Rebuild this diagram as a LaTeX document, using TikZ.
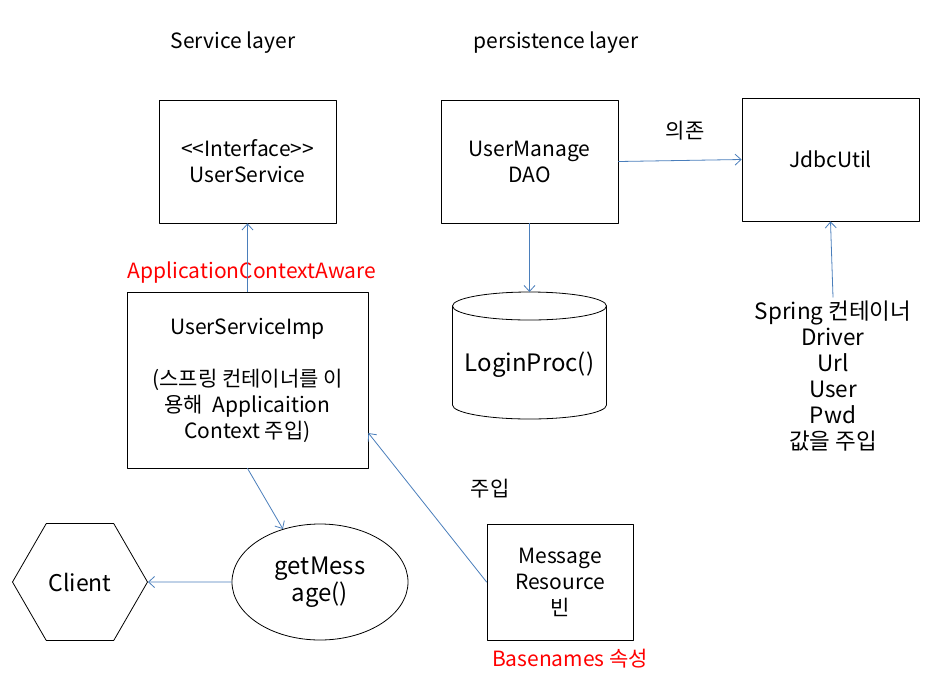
\documentclass[tikz,border=0pt]{standalone}
\usepackage{fontspec}
\setmainfont{Noto Sans CJK KR}
\usetikzlibrary{calc,shapes.geometric,arrows.meta}
\definecolor{linkblue}{RGB}{74,126,187}
\def\fs{21}
\def\lh{26}

\begin{document}
\begin{tikzpicture}[x=1pt, y=-1pt, line cap = round, line join = round,
		every node/.style = {font=\fontsize{\fs}{\lh}\selectfont, align=center},
		big/.style = {font=\fontsize{24}{27}\selectfont},
		box/.style = {draw, line width=0.8pt, inner sep=0pt},
		link/.style = {draw=linkblue, line width=0.8pt, -{Straight Barb[length=6pt,width=11pt]}},
		note/.style = {text=red}]
		\useasboundingbox (0,0) rectangle (937,673);
		
		% Layers
		\node (svclayer) at (233,43) {Service layer};
		\node (perlayer) at (556,43) {persistence layer};
		
		% Boxes
		\node[box, minimum width=177, minimum height=123] (svc) at (247.5,161.5) {<{}<Interface>{}>\\UserService};
		\node[box, minimum width=241, minimum height=176] (impl) at (247.5,380)
			{UserServiceImp\\[\lh pt](스프링 컨테이너를 이\\용해~~Applicaition\\Context 주입)};
		\node[box, minimum width=177, minimum height=123] (dao) at (529.5,161.5) {UserManage\\DAO};
		\node[box, minimum width=177, minimum height=123] (jdbc) at (830.5,159.5) {JdbcUtil};
		\node[box, minimum width=146, minimum height=116] (msg) at (560,582) {Message\\Resource\\빈};
		\node[box, big, ellipse, minimum width=176, minimum height=116] (getmsg) at (320,582) {getMess\\age()};
		\node[box, big, font=\fontsize{23}{27}\selectfont, regular polygon, regular polygon sides=6, minimum size=135] (client) at (80,582) {Client};
		
		% Cylinder
		\coordinate (dbtop) at (529.5,292);
		\draw[line width=0.8pt] (529.5,306) ellipse [x radius=77, y radius=14];
		\draw[line width=0.8pt] (452.5,306) -- (452.5,405)
			arc [start angle=180, end angle=0, x radius=77, y radius=14] -- (606.5,306);
		\node[big] (login) at (529.5,365) {LoginProc()};
		
		% Spring
		\node[font=\fontsize{22.5}{26}\selectfont] (spring) at (833,376) {Spring 컨테이너\\Driver\\Url\\User\\Pwd\\값을 주입};
		
		% Labels
		\node[note] (aware) at (252,273) {ApplicationContextAware};
		\node[note] (basenames) at (570,659) {Basenames 속성};
		\node (dep) at (685,131) {의존};
		\node (inject) at (490,489) {주입};
		
		% Links
		\draw[link] (impl.north) -- (svc.south);
		\draw[link] (dao.east) -- (jdbc.west);
		\draw[link] (dao.south) -- (dbtop);
		\draw[link] (spring.north) -- (jdbc.south);
		\draw[link] (impl.south) -- (getmsg.125);
		\draw[link] (getmsg.west) -- (client.east);
		\draw[link] (msg.west) -- ($(impl.south east)!0.2!(impl.north east)$);
	\end{tikzpicture}
\end{document}
